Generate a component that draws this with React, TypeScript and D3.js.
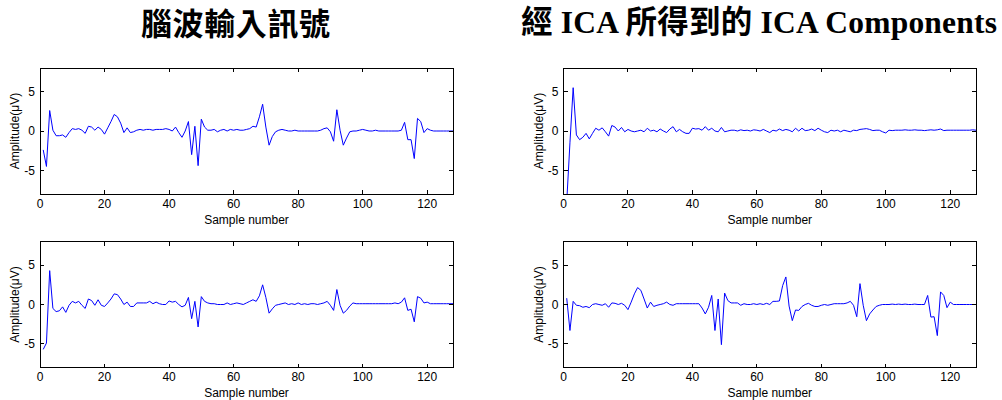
import React from "react";
import * as d3 from "d3";

// 腦波輸入訊號 : two recorded channels, samples 1..128
const eegChannel1 = [
  -2.4, -4.5, 2.6, 0.1, -0.6, -0.6, -0.5, -0.8, -0.2, 0.3,
  0.2, 0.3, 0.1, -0.3, 0.6, 0.5, 0.1, 0.5, 0.2, -0.4,
  0.4, 1.2, 2.1, 1.8, 1.0, -0.2, 0.4, -0.2, -0.1, 0.1,
  0.2, 0.1, 0.2, 0.2, 0.1, 0.2, 0.2, 0.2, 0.3, 0.2,
  0.0, 0.5, -0.2, -0.8, 0.0, 1.2, -3.0, 0.6, -4.4, 1.5,
  0.5, 0.1, 0.1, 0.2, -0.1, 0.1, 0.2, 0.0, 0.2, 0.1,
  0.2, 0.1, 0.1, 0.2, 0.3, 0.6, 0.5, 1.8, 3.4, 0.5,
  -1.8, -0.7, -0.1, 0.1, 0.2, 0.1, 0.0, 0.0, 0.1, 0.0,
  0.0, 0.0, 0.0, 0.0, 0.0, 0.0, 0.1, 0.3, 0.4, -0.1,
  -1.3, 2.7, 0.1, -1.8, -0.9, -0.1, 0.0, 0.0, 0.1, 0.2,
  0.1, 0.0, 0.0, 0.1, 0.0, 0.0, 0.0, 0.0, 0.0, 0.0,
  0.0, 0.1, 1.1, -1.1, -1.1, -3.5, 1.6, 1.2, -0.2, 0.3,
  0.1, 0.0, 0.0, 0.0, 0.0, 0.0, 0.0, 0.0,
];

const eegChannel2 = [
  -5.7, -4.9, 4.3, -0.5, -0.9, -0.8, -0.3, -1.0, -0.1, 0.4,
  0.2, 0.4, -0.1, -0.5, 0.7, 0.5, -0.1, 0.6, -0.1, -0.25,
  0.2, 0.7, 1.35, 1.25, 0.7, 0.0, 0.3, -0.25, -0.25, 0.2,
  0.2, 0.2, 0.2, 0.4, 0.1, 0.3, 0.1, 0.0, 0.0, 0.45,
  0.3, 0.4, 0.0, -0.3, -0.1, 0.9, -1.8, 0.4, -2.85, 1.0,
  0.4, 0.2, 0.1, 0.1, 0.0, 0.0, 0.0, 0.2, 0.0, 0.1,
  0.2, 0.1, 0.0, 0.2, 0.4, 0.6, 0.4, 1.1, 2.5, 0.9,
  -1.1, -0.55, -0.1, 0.0, 0.1, 0.2, 0.0, 0.1, 0.0, 0.2,
  0.0, 0.1, 0.0, 0.1, 0.1, 0.0, 0.1, 0.2, 0.4, -0.1,
  -0.75, 1.9, -0.1, -1.1, -0.75, -0.2, 0.2, 0.1, 0.1, 0.1,
  0.1, 0.1, 0.1, 0.1, 0.1, 0.1, 0.1, 0.1, 0.1, 0.2,
  0.1, 0.3, 0.85, -0.75, -0.6, -2.2, 1.0, 0.8, 0.2, 0.3,
  0.1, 0.1, 0.1, 0.1, 0.1, 0.1, 0.1, 0.1,
];

// 經 ICA 所得到的 ICA Components
const icaComponent1 = [
  -9.0, -1.5, 5.5, -0.5, -1.1, -0.8, -0.3, -1.0, -0.3, 0.35,
  0.1, 0.4, -0.1, -0.65, 0.7, 0.5, 0.0, 0.45, -0.1, 0.2,
  0.0, -0.1, 0.0, 0.1, -0.1, 0.35, 0.0, 0.1, -0.1, 0.25,
  0.0, -0.2, 0.25, 0.55, -0.1, 0.2, -0.1, -0.3, -0.3, 0.35,
  0.25, 0.3, 0.1, 0.55, 0.1, 0.35, 0.0, -0.1, 0.45, -0.1,
  0.0, 0.1, 0.1, 0.0, 0.15, 0.05, 0.1, 0.0, 0.15, 0.1,
  0.0, 0.2, 0.0, -0.2, 0.1, 0.0, 0.25, 0.05, 0.2, 0.1,
  -0.1, 0.35, 0.0, 0.35, 0.05, 0.1, 0.25, 0.05, 0.35, 0.1,
  -0.1, -0.2, 0.1, 0.0, 0.1, -0.1, 0.1, 0.0, -0.1, 0.1,
  0.05, 0.2, 0.25, 0.3, 0.2, 0.05, 0.1, 0.1, -0.1, -0.25,
  0.1, 0.05, 0.1, 0.1, 0.1, 0.15, 0.1, 0.1, 0.15, 0.1,
  0.1, 0.05, 0.1, 0.15, 0.1, 0.15, 0.25, 0.05, 0.1, 0.1,
  0.1, 0.1, 0.1, 0.1, 0.1, 0.1, 0.15, 0.1,
];

const icaComponent2 = [
  0.8, -3.3, 0.4, -0.1, -0.15, -0.35, -0.25, -0.4, 0.0, 0.1,
  0.0, -0.1, 0.1, -0.35, 0.2, 0.15, 0.0, 0.15, -0.1, -0.65,
  0.3, 1.35, 2.15, 1.8, 0.7, -0.45, 0.3, -0.25, -0.1, 0.0,
  0.1, 0.3, 0.0, -0.1, 0.1, 0.1, 0.1, 0.1, 0.1, 0.1,
  0.1, 0.1, -0.45, -1.2, -0.35, 1.15, -3.3, 0.7, -5.1, 1.45,
  0.5, 0.2, 0.2, 0.2, -0.1, 0.1, 0.0, 0.0, 0.1, 0.0,
  0.1, 0.0, 0.15, 0.0, 0.4, 0.4, 0.45, 2.4, 3.5, -0.2,
  -2.05, -0.7, -0.75, -0.25, 0.0, 0.15, -0.1, -0.25, -0.25, -0.1,
  0.0, -0.1, 0.0, 0.1, 0.1, 0.1, 0.1, 0.2, 0.4, -0.1,
  -1.55, 2.65, -0.1, -2.05, -1.2, -0.7, -0.25, -0.1, 0.0, 0.0,
  0.0, 0.05, 0.0, 0.05, 0.0, 0.05, 0.0, 0.0, 0.05, 0.0,
  0.0, 0.0, 1.15, -1.6, -1.55, -3.95, 1.6, 1.15, -0.4, 0.3,
  0.0, 0.0, 0.0, 0.0, 0.0, 0.0, 0.0, 0.0,
];

const xTicks = [0, 20, 40, 60, 80, 100, 120];
const yTicks = [-5, 0, 5];
const xDomain = [0, 128];
const yDomain = [-8, 8];

const leftTitle = "腦波輸入訊號";
const rightTitle = "經 ICA 所得到的 ICA Components";
const xLabel = "Sample number";
const yLabel = "Amplitude(μV)";

const axisFont = "'Liberation Sans', Arial, sans-serif";
const titleFont = "'Liberation Serif', 'Noto Sans CJK TC', serif";

function Panel({ id, x0, y0, w, h, values }) {
  const sx = d3.scaleLinear().domain(xDomain).range([x0, x0 + w]);
  const sy = d3.scaleLinear().domain(yDomain).range([y0 + h, y0]);
  const line = d3
    .line<number>()
    .x((d, i) => sx(i + 1))
    .y((d) => sy(d));
  const tick = 4;

  return (
    <g>
      <defs>
        <clipPath id={id}>
          <rect x={x0} y={y0} width={w} height={h} />
        </clipPath>
      </defs>
      <rect x={x0} y={y0} width={w} height={h} fill="#fff" />
      <path
        d={line(values) || ""}
        fill="none"
        stroke="#0000ff"
        strokeWidth={1}
        clipPath={`url(#${id})`}
      />
      {/* box */}
      <rect
        x={x0}
        y={y0}
        width={w}
        height={h}
        fill="none"
        stroke="#000"
        strokeWidth={1}
        shapeRendering="crispEdges"
      />
      {/* ticks inside, both sides */}
      {xTicks.map((t) => (
        <g key={"x" + t}>
          <line x1={sx(t)} x2={sx(t)} y1={y0 + h} y2={y0 + h - tick} stroke="#000" shapeRendering="crispEdges" />
          <line x1={sx(t)} x2={sx(t)} y1={y0} y2={y0 + tick} stroke="#000" shapeRendering="crispEdges" />
          <text x={sx(t)} y={y0 + h + 13.5} textAnchor="middle" fontSize={12} fontFamily={axisFont}>
            {t}
          </text>
        </g>
      ))}
      {yTicks.map((t) => (
        <g key={"y" + t}>
          <line x1={x0} x2={x0 + tick} y1={sy(t)} y2={sy(t)} stroke="#000" shapeRendering="crispEdges" />
          <line x1={x0 + w} x2={x0 + w - tick} y1={sy(t)} y2={sy(t)} stroke="#000" shapeRendering="crispEdges" />
          <text x={x0 - 5} y={sy(t)} dy="0.35em" textAnchor="end" fontSize={12} fontFamily={axisFont}>
            {t < 0 ? "-" + Math.abs(t) : t}
          </text>
        </g>
      ))}
      <text x={x0 + w / 2} y={y0 + h + 29.5} textAnchor="middle" fontSize={12} fontFamily={axisFont}>
        {xLabel}
      </text>
      <text
        transform={`translate(${x0 - 25},${y0 + h / 2}) rotate(-90)`}
        dy="0.35em"
        textAnchor="middle"
        fontSize={12}
        fontFamily={axisFont}
      >
        {yLabel}
      </text>
    </g>
  );
}

export default function App() {
  return (
    <svg
      width={1002}
      height={400}
      style={{ position: "absolute", left: 0, top: 0, background: "#fff" }}
    >
      <rect width={1002} height={400} fill="#fff" />
      <text x={141} y={35} fontSize={31} fontWeight="bold" fontFamily={titleFont} textLength={189} lengthAdjust="spacing">
        {leftTitle}
      </text>
      <text x={521} y={33} fontSize={31.5} fontWeight="bold" fontFamily={titleFont} textLength={476} lengthAdjust="spacing">
        {rightTitle}
      </text>
      <Panel id="p1" x0={40} y0={68} w={413} h={126} values={eegChannel1} />
      <Panel id="p2" x0={40} y0={241.5} w={413} h={126} values={eegChannel2} />
      <Panel id="p3" x0={563.5} y0={68} w={412.5} h={126} values={icaComponent1} />
      <Panel id="p4" x0={563.5} y0={241.5} w={412.5} h={126} values={icaComponent2} />
    </svg>
  );
}
